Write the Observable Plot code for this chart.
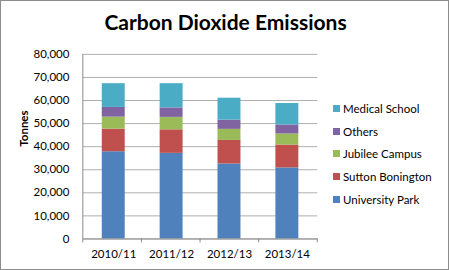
<!DOCTYPE html>
<html><head><meta charset="utf-8">
<script src="https://cdn.jsdelivr.net/npm/d3@7"></script>
<script src="https://cdn.jsdelivr.net/npm/@observablehq/plot@0.6"></script>
<style>
body{margin:0;background:#fff;}
#wrap{position:relative;width:449px;height:270px;box-sizing:border-box;border:1px solid #8c8c8c;font-family:Lato,"Open Sans",sans-serif;overflow:hidden;}
#title{position:absolute;left:0;top:8px;width:449px;text-align:center;font-size:21px;font-weight:bold;color:#000;}
#legend{position:absolute;left:332px;top:96px;font-size:11.5px;color:#000;}
#legend div{height:22.8px;display:flex;align-items:center;}
#legend span.sw{display:inline-block;width:7px;height:7px;margin-right:3px;}
#chart{position:absolute;left:-1px;top:-1px;}
</style></head>
<body>
<div id="wrap">
<div id="chart"></div>
<div id="title">Carbon Dioxide Emissions</div>
<div id="legend"></div>
</div>
<script>
const years = ["2010/11", "2011/12", "2012/13", "2013/14"];
const seriesNames = ["University Park", "Sutton Bonington", "Jubilee Campus", "Others", "Medical School"];
const universityPark = [37800, 37100, 32500, 30800];
const suttonBonington = [9800, 10200, 10200, 9900];
const jubileeCampus = [5200, 5400, 4800, 4800];
const others = [4200, 4100, 4000, 3900];
const medicalSchool = [10300, 10500, 9500, 9300];
const colors = ["#4F81BD", "#C0504D", "#9BBB59", "#8064A2", "#4BACC6"];
const yTicks = [0, 10000, 20000, 30000, 40000, 50000, 60000, 70000, 80000];

const seriesValues = [universityPark, suttonBonington, jubileeCampus, others, medicalSchool];
const data = [];
seriesNames.forEach((s, si) => years.forEach((y, yi) => data.push({year: y, series: s, value: seriesValues[si][yi]})));

const fmt = d3.format(",");
const chart = Plot.plot({
  width: 449, height: 270,
  marginTop: 54, marginBottom: 31, marginLeft: 83, marginRight: 131,
  style: {fontFamily: "Lato, 'Open Sans', sans-serif", fontSize: "11.5px", color: "#000", background: "transparent"},
  x: {domain: years, paddingInner: 0.61, paddingOuter: 0.305, label: null},
  y: {domain: [0, 80000], ticks: yTicks, label: null},
  color: {domain: seriesNames, range: colors},
  marks: [
    Plot.gridY(yTicks, {stroke: "#8c8c8c", strokeOpacity: 0.7}),
    Plot.barY(data, {x: "year", y: "value", fill: "series", order: seriesNames}),
    Plot.axisY(yTicks, {tickFormat: fmt, tickSize: 0, tickPadding: 14, fill: "#000", fontSize: 11.5}),
    Plot.axisX({tickSize: 0, tickPadding: 11, fill: "#000", fontSize: 11.5}),
    Plot.ruleY([0], {stroke: "#8c8c8c"}),
    (index, scales, values, dims) => {
      const g = d3.create("svg:g").attr("stroke", "#8c8c8c");
      const l = dims.marginLeft, r = dims.width - dims.marginRight, b = dims.height - dims.marginBottom;
      const n = scales.x.domain().length;
      for (let i = 0; i <= n; i++) {
        const xx = l + (r - l) * i / n;
        g.append("line").attr("x1", xx).attr("x2", xx).attr("y1", b).attr("y2", b + 4);
      }
      g.append("line").attr("x1", l).attr("x2", l).attr("y1", dims.marginTop).attr("y2", b);
      return g.node();
    },
    Plot.text(["Tonnes"], {frameAnchor: "left", dx: -59, rotate: -90, fontWeight: "bold", fontSize: 11.5, fill: "#000"})
  ]
});
document.getElementById("chart").appendChild(chart);

const legend = document.getElementById("legend");
for (let i = seriesNames.length - 1; i >= 0; i--) {
  const row = document.createElement("div");
  const sw = document.createElement("span");
  sw.className = "sw"; sw.style.background = colors[i];
  row.appendChild(sw);
  row.appendChild(document.createTextNode(seriesNames[i]));
  legend.appendChild(row);
}
</script>
</body></html>
